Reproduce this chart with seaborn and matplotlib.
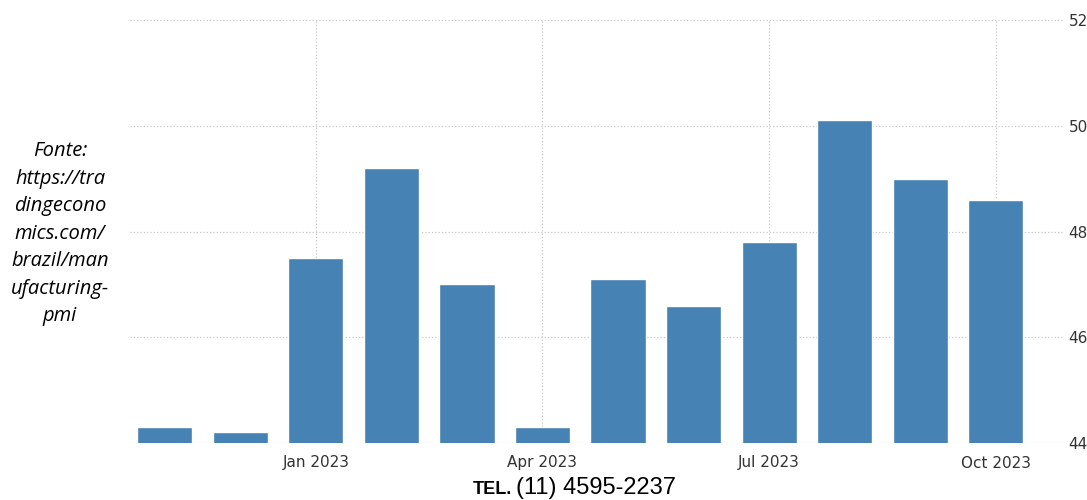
import matplotlib.pyplot as plt
import seaborn as sns
import pandas as pd

# Brazil manufacturing PMI, Nov 2022 - Oct 2023
months = ['Nov 2022', 'Dec 2022', 'Jan 2023', 'Feb 2023', 'Mar 2023', 'Apr 2023',
          'May 2023', 'Jun 2023', 'Jul 2023', 'Aug 2023', 'Sep 2023', 'Oct 2023']
pmi = [44.3, 44.2, 47.5, 49.2, 47.0, 44.3, 47.1, 46.6, 47.8, 50.1, 49.0, 48.6]
tick_months = ['Jan 2023', 'Apr 2023', 'Jul 2023', 'Oct 2023']
y_ticks = [44, 46, 48, 50, 52]

df = pd.DataFrame({'Mês': months, 'PMI': pmi})

sns.set_style("white")
plt.rcParams['font.family'] = ['DejaVu Sans']

fig = plt.figure(figsize=(10.87, 5), dpi=100)
ax = fig.add_axes([130 / 1087, 57 / 500, (1063 - 130) / 1087, 423 / 500])

sns.barplot(data=df, x='Mês', y='PMI', order=months, color='#4682b4',
            saturation=1, width=0.73, ax=ax)

ax.set_ylim(44, 52)
ax.set_xlim(-0.46, 11.89)
ax.set_yticks(y_ticks)
ax.yaxis.tick_right()
ax.tick_params(axis='y', length=0, pad=4, labelsize=11, labelcolor='#333333')

pos = [months.index(m) for m in tick_months]
ax.set_xticks(pos)
ax.set_xticklabels(tick_months)
ax.tick_params(axis='x', length=5, width=0.8, color='#cccccc', pad=4,
               labelsize=11, labelcolor='#333333')

ax.set_axisbelow(True)
ax.grid(True, axis='both', linestyle=':', color='#c8c8c8', linewidth=0.9)
for s in ax.spines.values():
    s.set_visible(False)
ax.set_xlabel('')
ax.set_ylabel('')

fig.text(60 / 1087, 1 - 234 / 500,
         "Fonte:\nhttps://tra\ndingecono\nmics.com/\nbrazil/man\nufacturing-\npmi",
         ha='center', va='center', fontsize=14.5, style='italic',
         family='Open Sans', linespacing=1.5, color='black')

fig.text(512 / 1087, 1 - 489 / 500, "TEL.", ha='right', va='center',
         fontsize=13, fontweight='bold', family='Liberation Sans', color='black')
fig.text(516 / 1087, 1 - 488 / 500, "(11) 4595-2237", ha='left', va='center',
         fontsize=17, family='Liberation Sans', color='black')

fig.savefig('out.png', dpi=100)
